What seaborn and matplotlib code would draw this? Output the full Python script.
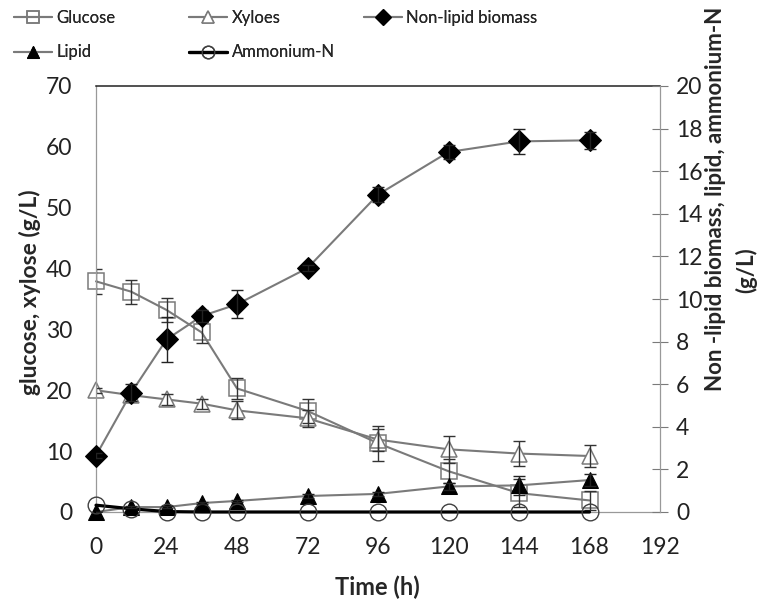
import pandas as pd
import seaborn as sns
import matplotlib as mpl
from matplotlib import pyplot as plt

mpl.use('Agg')

# data
time_h = [0, 12, 24, 36, 48, 72, 96, 120, 144, 168]
glucose = [37.9, 36.2, 33.2, 29.5, 20.3, 16.6, 11.3, 6.7, 3.1, 1.9]
glucose_err = [2.0, 2.0, 2.0, 1.7, 1.8, 2.0, 2.9, 2.0, 2.3, 1.6]
xylose = [20.0, 19.2, 18.5, 17.8, 16.7, 15.4, 11.9, 10.3, 9.6, 9.2]
xylose_err = [0.4, 1.0, 0.9, 0.8, 1.5, 1.4, 1.8, 2.2, 2.0, 1.8]
biomass = [2.65, 5.6, 8.1, 9.2, 9.75, 11.45, 14.9, 16.9, 17.4, 17.45]
biomass_err = [0.1, 0.4, 1.05, 0.3, 0.65, 0.15, 0.35, 0.35, 0.6, 0.4]
lipid = [0.0, 0.23, 0.23, 0.42, 0.52, 0.75, 0.85, 1.2, 1.25, 1.5]
lipid_err = [0.02, 0.05, 0.05, 0.05, 0.05, 0.1, 0.1, 0.15, 0.45, 0.3]
ammonium = [0.32, 0.15, 0.02, 0.0, 0.0, 0.0, 0.0, 0.0, 0.0, 0.0]

x_ticks = [0, 24, 48, 72, 96, 120, 144, 168, 192]

df = pd.DataFrame({'time': time_h, 'glucose': glucose, 'xylose': xylose,
                   'biomass': biomass, 'lipid': lipid, 'ammonium': ammonium})

sns.set_style('white')
plt.rcParams['font.family'] = ['Lato', 'DejaVu Sans']

GRAY = '#7a7a7a'

fig = plt.figure(figsize=(7.66, 6.07), dpi=100)
ax = fig.add_axes([96/766, 1-512/607, (660-96)/766, (512-86)/607])
ax2 = ax.twinx()

# primary axis: sugars
sns.lineplot(data=df, x='time', y='glucose', ax=ax, color=GRAY, lw=1.5,
             marker='s', markersize=12, markerfacecolor='none',
             markeredgecolor=GRAY, markeredgewidth=1.1, clip_on=False)
h_glu = ax.lines[-1]
sns.lineplot(data=df, x='time', y='xylose', ax=ax, color=GRAY, lw=1.5,
             marker='^', markersize=12, markerfacecolor='white',
             markeredgecolor=GRAY, markeredgewidth=1.1, clip_on=False)
h_xyl = ax.lines[-1]
ax.errorbar(time_h, glucose, yerr=glucose_err, fmt='none', ecolor='#333333',
            elinewidth=1, capsize=4, capthick=1)
ax.errorbar(time_h, xylose, yerr=xylose_err, fmt='none', ecolor='#333333',
            elinewidth=1, capsize=4, capthick=1)

# secondary axis: biomass, lipid, ammonium
sns.lineplot(data=df, x='time', y='biomass', ax=ax2, color=GRAY, lw=1.5,
             marker='D', markersize=11, markerfacecolor='black',
             markeredgecolor='black', clip_on=False)
h_bio = ax2.lines[-1]
sns.lineplot(data=df, x='time', y='lipid', ax=ax2, color=GRAY, lw=1.5,
             marker='^', markersize=12, markerfacecolor='black',
             markeredgecolor='black', clip_on=False)
h_lip = ax2.lines[-1]
sns.lineplot(data=df, x='time', y='ammonium', ax=ax2, color='black', lw=2.3,
             marker='o', markersize=12, markerfacecolor='none',
             markeredgecolor='#404040', markeredgewidth=1, clip_on=False)
h_amm = ax2.lines[-1]
ax2.errorbar(time_h, biomass, yerr=biomass_err, fmt='none', ecolor='#222222',
             elinewidth=1, capsize=4, capthick=1)
ax2.errorbar(time_h, lipid, yerr=lipid_err, fmt='none', ecolor='#222222',
             elinewidth=1, capsize=4, capthick=1)

ax.set_xlim(0, 192)
ax.set_ylim(0, 70)
ax2.set_ylim(0, 20)
ax.set_xticks(x_ticks)
ax.set_yticks(range(0, 71, 10))
ax2.set_yticks(range(0, 21, 2))

ax.tick_params(axis='y', length=0, labelsize=16.5, colors='#222222', pad=17)
ax.tick_params(axis='x', length=0, labelsize=16.5, colors='#222222', pad=18)
ax2.tick_params(axis='y', direction='inout', length=11, width=0.8,
                color=GRAY, labelsize=16.5, labelcolor='#222222', pad=6)

for s in ['left', 'bottom']:
    ax.spines[s].set_color('#999999')
    ax.spines[s].set_linewidth(0.9)
ax.spines['top'].set_color('#222222')
ax.spines['top'].set_linewidth(1.1)
ax.spines['right'].set_visible(False)
for s in ['left', 'bottom', 'top']:
    ax2.spines[s].set_visible(False)
ax2.spines['right'].set_color('#999999')
ax2.spines['right'].set_linewidth(0.9)

ax.set_xlabel('')
ax.set_ylabel('')
ax2.set_ylabel('')
fig.text(377/766, 1-587/607, 'Time (h)', ha='center', va='center',
         fontsize=17, fontweight='bold')
fig.text(30/766, 1-292/607, 'glucose, xylose (g/L)', rotation=90,
         ha='center', va='center', fontsize=16.5, fontweight='bold')
fig.text(716/766, 1-199/607, 'Non -lipid biomass, lipid, ammonium-N',
         rotation=90, ha='center', va='center', fontsize=16,
         fontweight='bold')
fig.text(746/766, 1-270/607, '(g/L)', rotation=90, ha='center',
         va='center', fontsize=16, fontweight='bold')

# legend, laid out in the three fixed columns
cols = [([h_glu, h_lip], ['Glucose', 'Lipid'], 4),
        ([h_xyl, h_amm], ['Xyloes', 'Ammonium-N'], 179),
        ([h_bio], ['Non-lipid biomass'], 354)]
for handles, labels, xpix in cols:
    leg = fig.legend(handles, labels, loc='upper left',
                     bbox_to_anchor=(xpix/766, 1.0), frameon=False,
                     fontsize=12, handlelength=2.3, handletextpad=0.25,
                     labelspacing=1.1, markerscale=0.75, borderaxespad=0.2)
    fig.add_artist(leg)

fig.savefig('out.png', dpi=100)
